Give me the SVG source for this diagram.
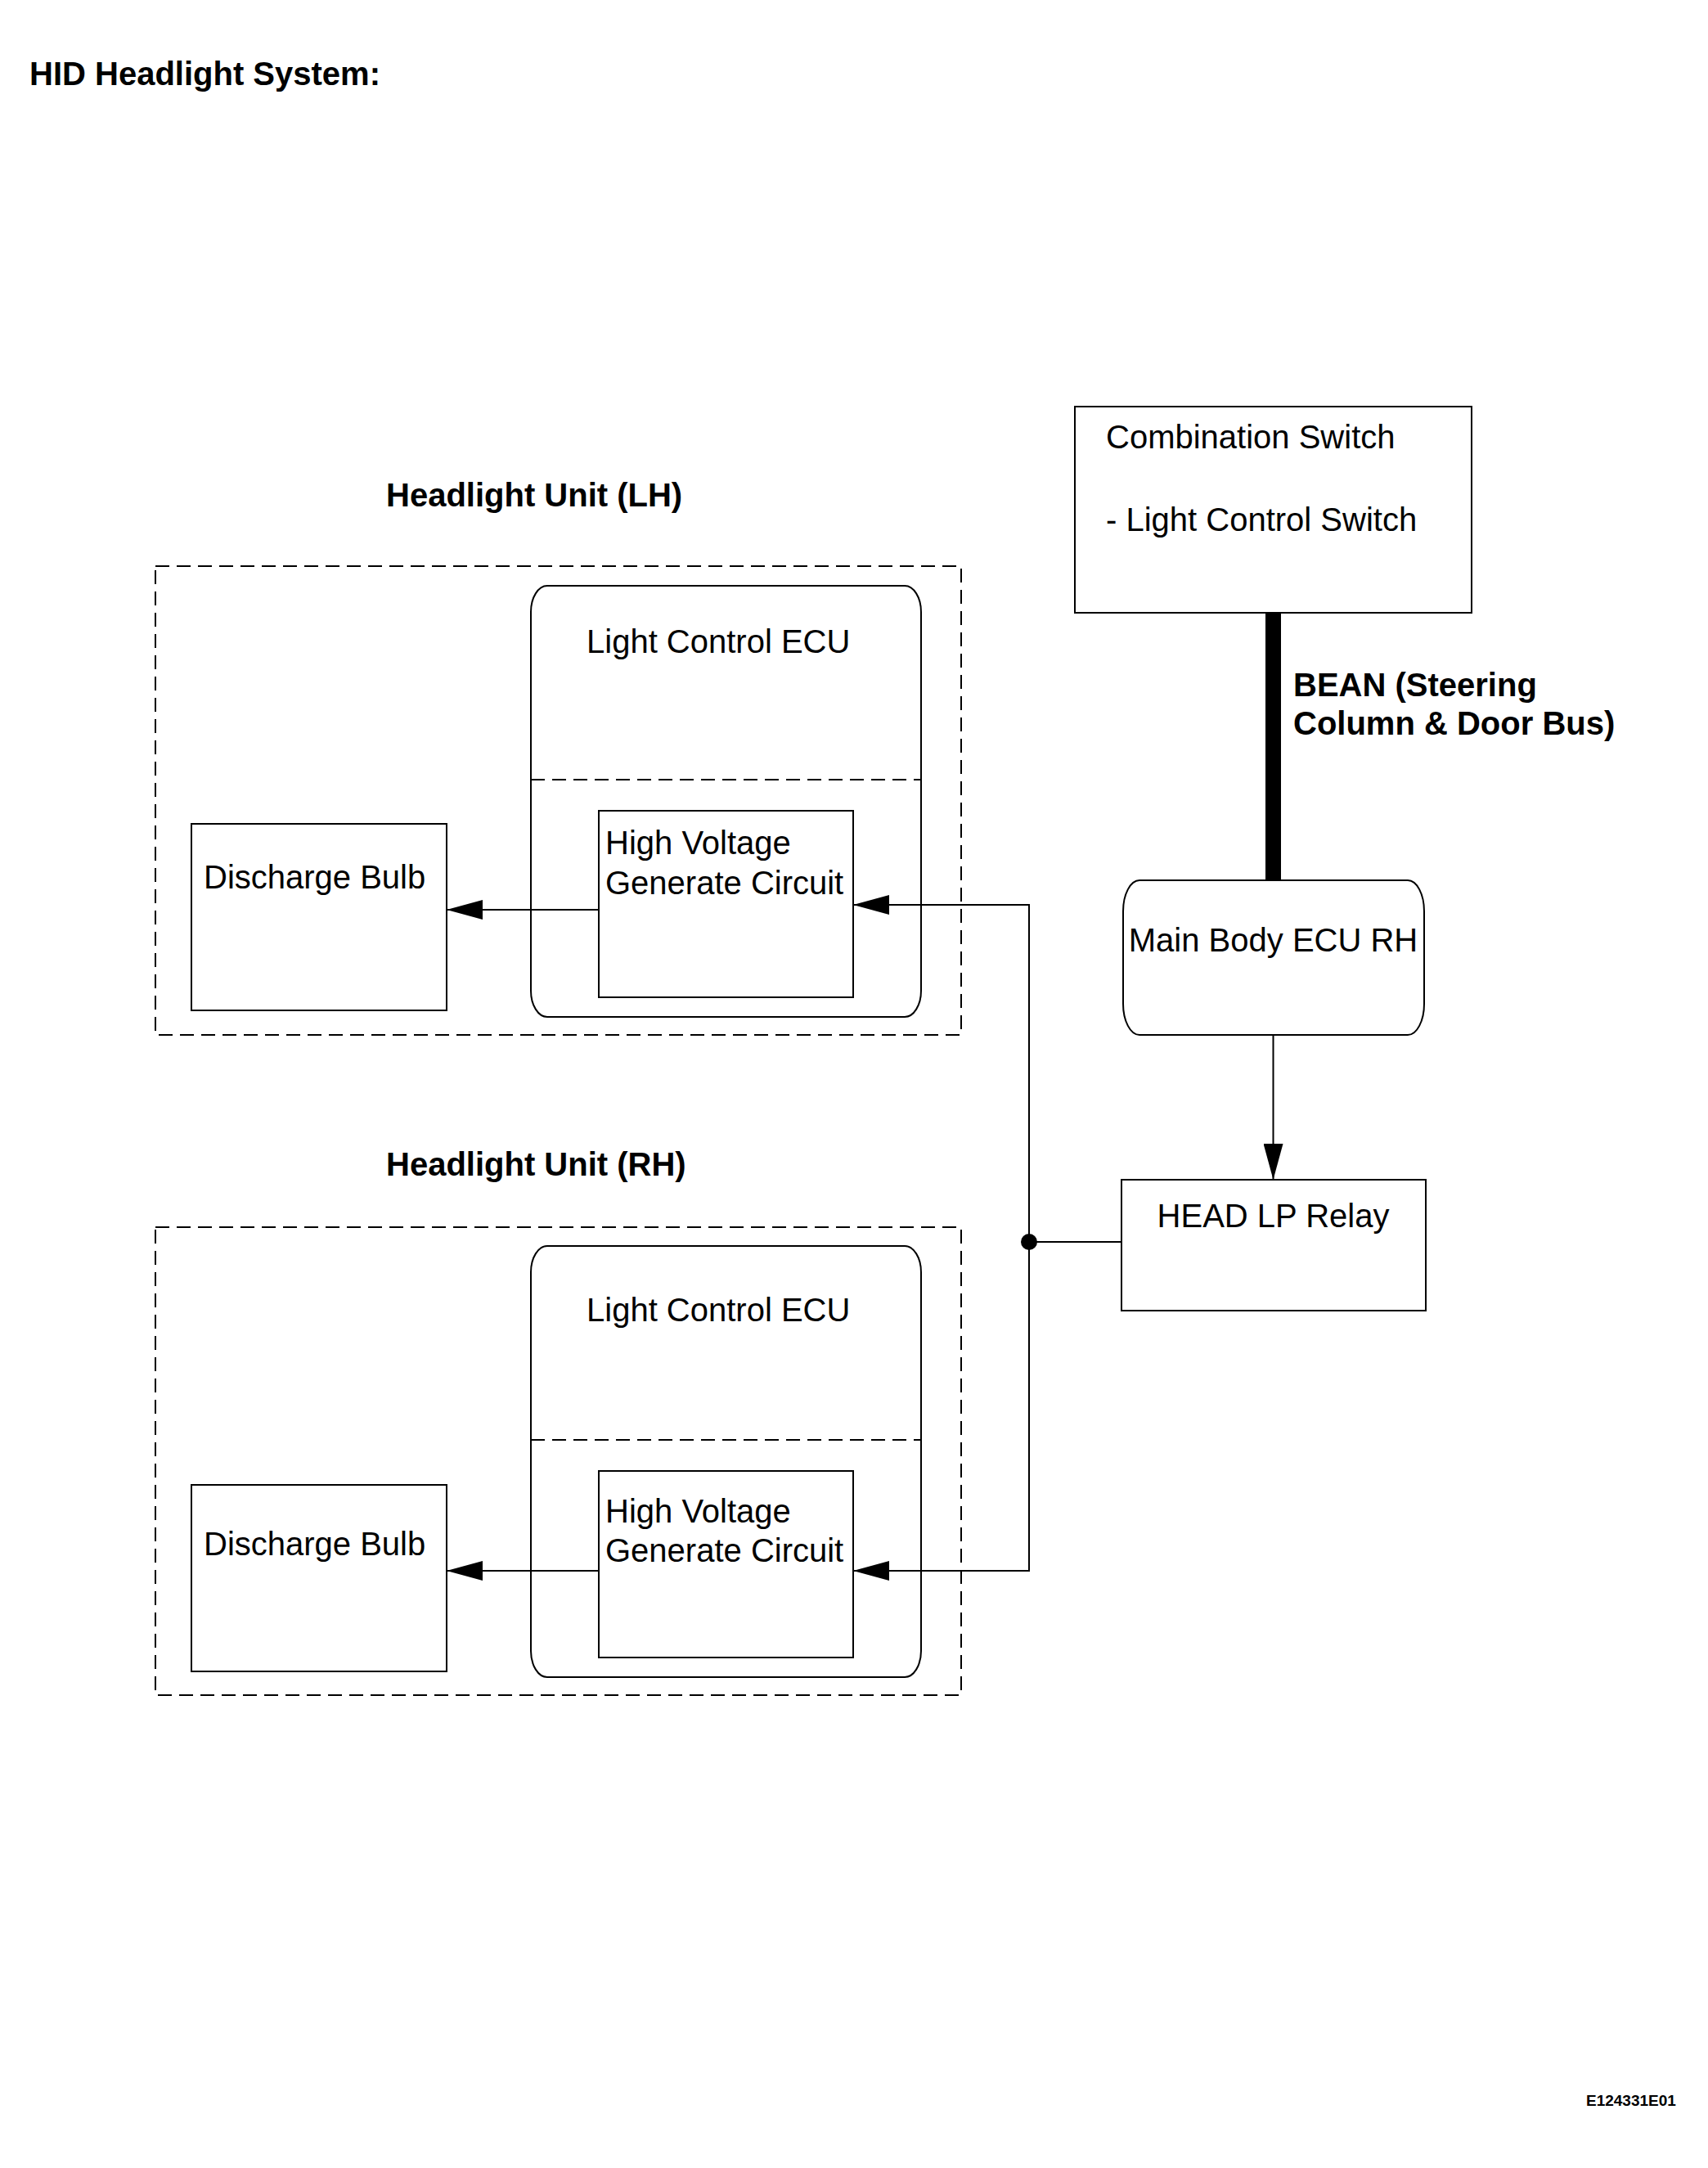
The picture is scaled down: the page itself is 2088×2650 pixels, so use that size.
<svg xmlns="http://www.w3.org/2000/svg" width="2088" height="2650" viewBox="0 0 2088 2650">
<style>
text{font-family:"Liberation Sans",Arial,sans-serif;fill:#000}
.t{font-size:40px}
.b{font-size:40px;font-weight:bold}
.box{fill:#fff;stroke:#000;stroke-width:2}
.dash{fill:none;stroke:#000;stroke-width:2;stroke-dasharray:17 9}
.wire{fill:none;stroke:#000;stroke-width:2}
</style>
<defs>
<marker id="ah" markerUnits="userSpaceOnUse" markerWidth="44" markerHeight="24" refX="44" refY="12" orient="auto">
<path d="M0,0 L44,12 L0,24 z" fill="#000"/>
</marker>
</defs>
<rect width="2088" height="2650" fill="#fff"/>
<text class="b" x="36" y="104">HID Headlight System:</text>

<g id="unit-lh">
<text class="b" x="472" y="619">Headlight Unit (LH)</text>
<rect class="dash" x="190" y="692" width="985" height="573"/>
</g>
<g id="ecu-lh">
<rect class="box" x="649" y="716" width="477" height="527" rx="20" ry="32"/>
<line class="dash" x1="649" y1="953" x2="1126" y2="953"/>
<text class="t" x="717" y="798">Light Control ECU</text>
</g>
<g id="hv-lh">
<rect class="box" x="732" y="991" width="311" height="228"/>
<text class="t" x="740" y="1044">High Voltage</text>
<text class="t" x="740" y="1093">Generate Circuit</text>
</g>
<g id="bulb-lh">
<rect class="box" x="234" y="1007" width="312" height="228"/>
<text class="t" x="249" y="1086">Discharge Bulb</text>
</g>

<g id="unit-rh">
<text class="b" x="472" y="1437">Headlight Unit (RH)</text>
<rect class="dash" x="190" y="1500" width="985" height="572"/>
</g>
<g id="ecu-rh">
<rect class="box" x="649" y="1523" width="477" height="527" rx="20" ry="32"/>
<line class="dash" x1="649" y1="1760" x2="1126" y2="1760"/>
<text class="t" x="717" y="1615">Light Control ECU</text>
</g>
<g id="hv-rh">
<rect class="box" x="732" y="1798" width="311" height="228"/>
<text class="t" x="740" y="1861">High Voltage</text>
<text class="t" x="740" y="1909">Generate Circuit</text>
</g>
<g id="bulb-rh">
<rect class="box" x="234" y="1815" width="312" height="228"/>
<text class="t" x="249" y="1901">Discharge Bulb</text>
</g>

<g id="combination-switch">
<rect class="box" x="1314" y="497" width="485" height="252"/>
<text class="t" x="1352" y="548">Combination Switch</text>
<text class="t" x="1352" y="649">- Light Control Switch</text>
</g>
<g id="main-body-ecu">
<rect class="box" x="1373" y="1076" width="368" height="189" rx="20" ry="38"/>
<text class="t" x="1556.5" y="1163" text-anchor="middle">Main Body ECU RH</text>
</g>
<g id="head-lp-relay">
<rect class="box" x="1371" y="1442" width="372" height="160"/>
<text class="t" x="1556.5" y="1500" text-anchor="middle">HEAD LP Relay</text>
</g>

<g id="connectors">
<line x1="1556.5" y1="749" x2="1556.5" y2="1076" stroke="#000" stroke-width="19"/>
<text class="b" x="1581" y="851">BEAN (Steering</text>
<text class="b" x="1581" y="898">Column &amp; Door Bus)</text>
<line class="wire" x1="1556.5" y1="1266" x2="1556.5" y2="1442" marker-end="url(#ah)"/>
<line class="wire" x1="1371" y1="1518" x2="1258" y2="1518"/>
<path class="wire" d="M1258,1518 L1258,1106 L1043,1106" marker-end="url(#ah)"/>
<path class="wire" d="M1258,1518 L1258,1920 L1043,1920" marker-end="url(#ah)"/>
<circle cx="1258" cy="1518" r="10" fill="#000"/>
<line class="wire" x1="732" y1="1112" x2="546" y2="1112" marker-end="url(#ah)"/>
<line class="wire" x1="732" y1="1920" x2="546" y2="1920" marker-end="url(#ah)"/>
</g>

<text x="1939" y="2574" style="font-size:19px;font-weight:bold">E124331E01</text>
</svg>
